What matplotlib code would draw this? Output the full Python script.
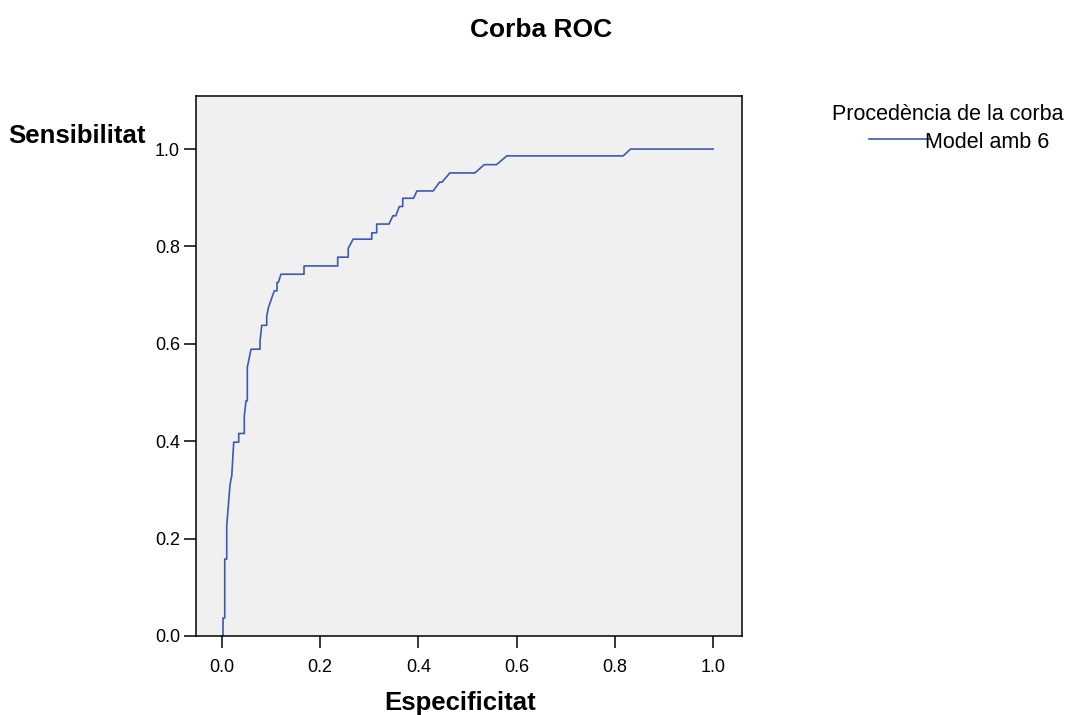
import matplotlib
matplotlib.use('Agg')
import matplotlib.pyplot as plt
from matplotlib.lines import Line2D

plt.rcParams['font.family'] = ['Liberation Sans', 'DejaVu Sans']

# punts de la corba ROC (llegits de la imatge)
fpr = [0.0, 0.002, 0.002, 0.0055, 0.0055, 0.0096, 0.0096, 0.0163, 0.0198, 0.0238,
       0.034, 0.034, 0.0454, 0.0454, 0.0489, 0.0515, 0.0515, 0.055, 0.059, 0.0774,
       0.0774, 0.0809, 0.091, 0.091, 0.0943, 0.0998, 0.1065, 0.112, 0.112, 0.1147,
       0.120, 0.167, 0.167, 0.2356, 0.2356, 0.257, 0.257, 0.259, 0.267, 0.305,
       0.305, 0.315, 0.315, 0.340, 0.348, 0.354, 0.361, 0.368, 0.368, 0.390,
       0.397, 0.430, 0.443, 0.448, 0.464, 0.515, 0.534, 0.559, 0.580, 0.817,
       0.832, 1.0]
tpr = [0.0, 0.0, 0.037, 0.037, 0.158, 0.158, 0.227, 0.311, 0.329, 0.398,
       0.398, 0.416, 0.416, 0.452, 0.483, 0.483, 0.552, 0.569, 0.589, 0.589,
       0.606, 0.638, 0.638, 0.656, 0.674, 0.690, 0.709, 0.709, 0.726, 0.726,
       0.743, 0.743, 0.760, 0.760, 0.778, 0.778, 0.796, 0.800, 0.815, 0.815,
       0.828, 0.828, 0.846, 0.846, 0.863, 0.863, 0.882, 0.882, 0.899, 0.899,
       0.914, 0.914, 0.932, 0.932, 0.951, 0.951, 0.968, 0.968, 0.986, 0.986,
       1.0, 1.0]

ticks = [0.0, 0.2, 0.4, 0.6, 0.8, 1.0]
tick_labels = ['0.0', '0.2', '0.4', '0.6', '0.8', '1.0']

W, H = 1070, 715
fig = plt.figure(figsize=(W / 100, H / 100), dpi=100)
ax = fig.add_axes([196 / W, 1 - 636 / H, 546 / W, 540 / H])
ax.set_facecolor('#f0f0f0')

ax.plot(fpr, tpr, color='#3b5ab4', linewidth=1.2)

ax.set_xlim(-0.053, 1.059)
ax.set_ylim(0, 1.109)
ax.set_xticks(ticks)
ax.set_xticklabels(tick_labels)
ax.set_yticks(ticks)
ax.set_yticklabels(tick_labels)
ax.tick_params(direction='out', length=8.5, width=1.1, labelsize=13, color='black')
ax.tick_params(axis='x', pad=8)
ax.tick_params(axis='y', pad=3)
for s in ax.spines.values():
    s.set_linewidth(1.1)
    s.set_color('black')

fig.text(541 / W, 1 - 30 / H, 'Corba ROC', ha='center', va='center',
         fontsize=19, fontweight='bold')
fig.text(8 / W, 1 - 143 / H, 'Sensibilitat', ha='left', va='baseline',
         fontsize=18.5, fontweight='bold')
fig.text(460 / W, 1 - 710 / H, 'Especificitat', ha='center', va='baseline',
         fontsize=18.5, fontweight='bold')

# llegenda
fig.text(832 / W, 1 - 120 / H, 'Procedència de la corba', ha='left', va='baseline',
         fontsize=15.5)
fig.add_artist(Line2D([869 / W, 930 / W], [1 - 139 / H, 1 - 139 / H],
                      transform=fig.transFigure, color='#3b5ab4', linewidth=1.2))
fig.text(925 / W, 1 - 148 / H, 'Model amb 6', ha='left', va='baseline', fontsize=15.5)

plt.savefig('out.png', dpi=100)
